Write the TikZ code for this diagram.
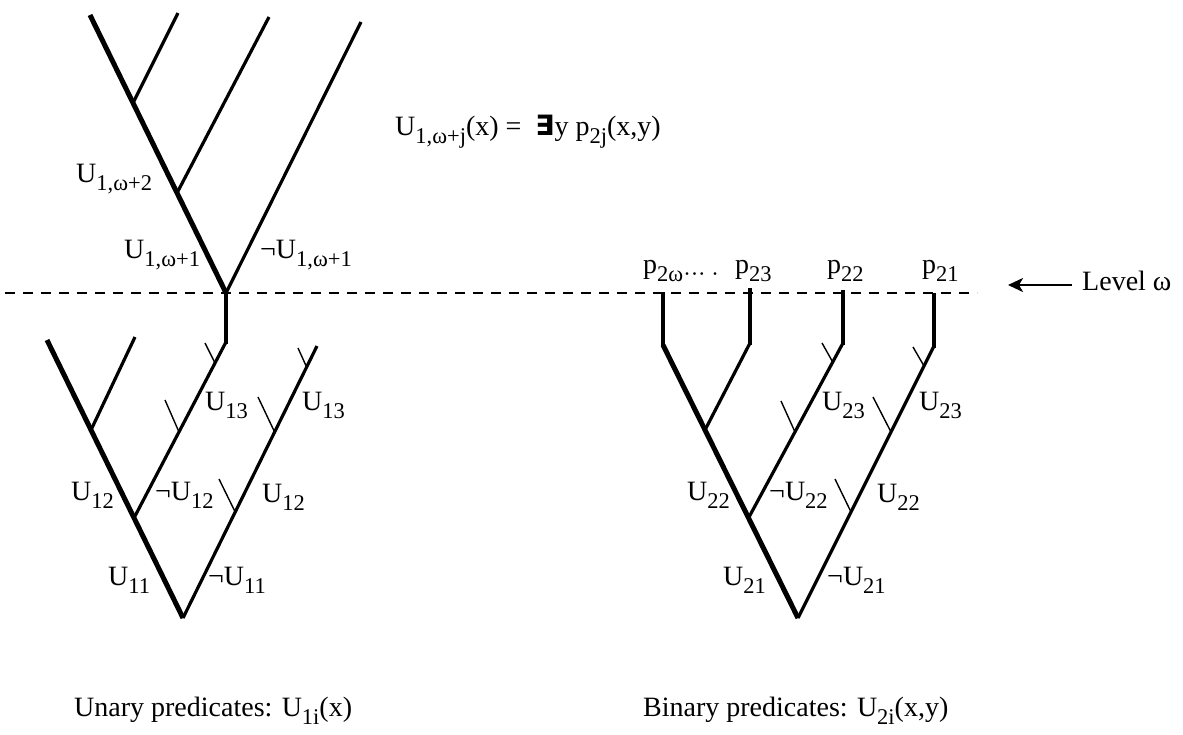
\documentclass[tikz,border=0pt]{standalone}
\usepackage{fontspec}
\setmainfont{Liberation Serif}
\newfontfamily\symf{DejaVu Sans}
\usetikzlibrary{arrows.meta}
\newcommand{\idx}[1]{\raisebox{-8pt}{\fontsize{22.5}{22.5}\selectfont #1}}
\tikzset{
  trunk/.style={line width=5pt},
  limb/.style={line width=3.2pt},
  twig/.style={line width=1.4pt},
  lvl/.style={dash pattern=on 10pt off 8pt, line width=1.4pt},
  lbl/.style={anchor=base west, inner sep=0pt, font=\fontsize{28}{32}\selectfont},
  arr/.style={-{Stealth[length=15pt,width=14pt,inset=4pt]}, line width=2.5pt},
}

\begin{document}
\begin{tikzpicture}[x=1pt,y=-1pt]
\useasboundingbox (0,0) rectangle (1183,734);

% Level omega
\coordinate (w0) at (5,293);
\coordinate (w1) at (977,293);
\draw[lvl] (w0) -- (w1);
\coordinate (lv) at (1008,285);
\node[lbl] (level) at (1082,290) {Level ω};
\draw[arr] ([xshift=-10pt,yshift=5pt]level.base west) -- (lv);

% Unary tree, above level omega
\coordinate (uw) at (226,293);
\coordinate (uw2) at (177,193);
\coordinate (uw3) at (133,103);
\coordinate (uwa) at (90,15);
\coordinate (uwb) at (178,13);
\coordinate (uwc) at (269,17);
\coordinate (uwd) at (361,22);
\draw[trunk] (uw) -- (uwa);
\draw[limb] (uw3) -- (uwb);
\draw[limb] (uw2) -- (uwc);
\draw[limb] (uw) -- (uwd);

% Unary tree, below level omega
\coordinate (u0) at (183,618);
\coordinate (u1) at (134,518);
\coordinate (u2) at (91,430);
\coordinate (ua) at (47,340);
\coordinate (ub) at (135,337);
\coordinate (uc) at (226,342);
\coordinate (ud) at (317,346);
\draw[trunk] (u0) -- (ua);
\draw[limb] (u2) -- (ub);
\draw[limb] (u1) -- (uc);
\draw[limb] (u0) -- (ud);
\draw[limb] ([yshift=-1.5pt]uc) -- (uw);

% ticks
\foreach \x/\y/\tx/\ty in {215/363/205/343, 179/432/165/400,
  306.6/367/298/348, 274.6/432/258/397, 235.2/512/219/479}
  \draw[twig] (\x,\y) -- (\tx,\ty);

% Binary tree
\coordinate (b0) at (798,618);
\coordinate (b1) at (748.5,518);
\coordinate (b2) at (705,430);
\coordinate (ba) at (663,345);
\coordinate (bb) at (750,343);
\coordinate (bc) at (843,343);
\coordinate (bd) at (934,346);
\coordinate (pa) at (663,292);
\coordinate (pb) at (750,288);
\coordinate (pc) at (843,290);
\coordinate (pd) at (934,293);
\draw[trunk] (b0) -- (ba);
\draw[limb] (b2) -- (bb);
\draw[limb] (b1) -- (bc);
\draw[limb] (b0) -- (bd);
\foreach \n in {a,b,c,d}
  \draw[limb] ([yshift=-2pt]b\n) -- (p\n);

% ticks
\foreach \x/\y/\tx/\ty in {832.7/362/822/343, 795/432/781/401,
  924/366/913/347, 891/432/873/397, 851/512/835/479}
  \draw[twig] (\x,\y) -- (\tx,\ty);

% Labels, unary
\node[lbl] (eq) at (395,135) {U\idx{1,ω+j}(x) = \ {\symf\bfseries ∃}y p\idx{2j}(x,y)};
\node[lbl] (uo2) at (76,182) {U\idx{1,ω+2}};
\node[lbl] (uo1) at (124,258) {U\idx{1,ω+1}};
\node[lbl] (nuo1) at (260,258) {¬U\idx{1,ω+1}};
\node[lbl] (u13a) at (205,410) {U\idx{13}};
\node[lbl] (u13b) at (302,410) {U\idx{13}};
\node[lbl] (u12a) at (71,500) {U\idx{12}};
\node[lbl] (nu12) at (155,500) {¬U\idx{12}};
\node[lbl] (u12b) at (262,502) {U\idx{12}};
\node[lbl] (u11) at (108,585) {U\idx{11}};
\node[lbl] (nu11) at (208,585) {¬U\idx{11}};

% Labels, binary
\node[lbl] (p2w) at (643,273) {p\idx{2ω··· ·}};
\node[lbl] (p23) at (735,273) {p\idx{23}};
\node[lbl] (p22) at (827,273) {p\idx{22}};
\node[lbl] (p21) at (922,273) {p\idx{21}};
\node[lbl] (u23a) at (822,410) {U\idx{23}};
\node[lbl] (u23b) at (919,410) {U\idx{23}};
\node[lbl] (u22a) at (687,500) {U\idx{22}};
\node[lbl] (nu22) at (769,500) {¬U\idx{22}};
\node[lbl] (u22b) at (877,502) {U\idx{22}};
\node[lbl] (u21) at (723,585) {U\idx{21}};
\node[lbl] (nu21) at (827,585) {¬U\idx{21}};

% Captions
\node[lbl] (unary) at (74,716) {Unary predicates: U\idx{1i}(x)};
\node[lbl] (binary) at (643,716) {Binary predicates: U\idx{2i}(x,y)};

\end{tikzpicture}
\end{document}
